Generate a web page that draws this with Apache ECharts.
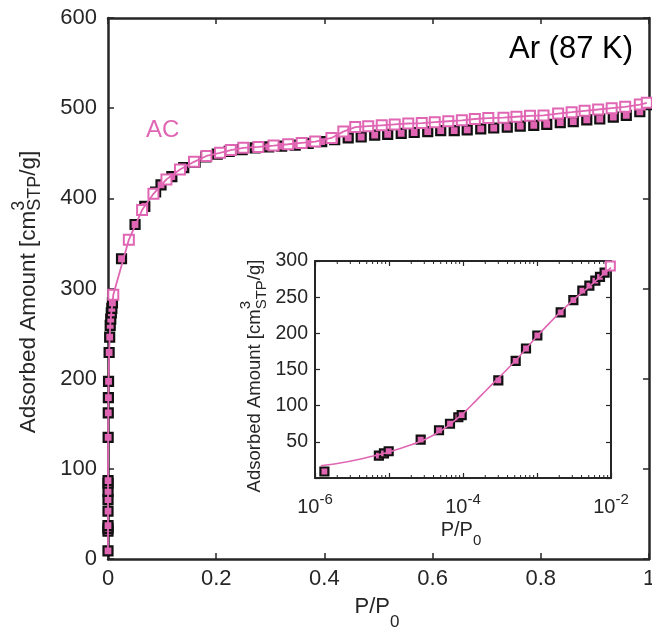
<!DOCTYPE html>
<html><head><meta charset="utf-8">
<script src="https://cdn.jsdelivr.net/npm/echarts@6/dist/echarts.min.js"></script>
<style>html,body{margin:0;padding:0;background:#fff;}#c{width:652px;height:635px;}</style>
</head><body><div id="c"></div>
<script>
// ---------- data ----------
// adsorption branch (filled squares)
const adsP = [1.34e-6, 7.3e-6, 8.55e-6, 9.9e-6, 2.68e-5, 4.74e-5, 6.67e-5, 8.65e-5, 9.6e-5, 3.0e-4,
  5.15e-4, 7.1e-4, 1.01e-3, 2.09e-3, 3.1e-3, 4.1e-3, 5.1e-3, 6.14e-3, 7.1e-3, 8.2e-3,
  0.025, 0.050, 0.068, 0.088, 0.098, 0.118, 0.140, 0.161, 0.181, 0.202,
  0.224, 0.248, 0.272, 0.297, 0.321, 0.346, 0.370, 0.395, 0.419, 0.444,
  0.468, 0.493, 0.517, 0.542, 0.566, 0.591, 0.615, 0.640, 0.664, 0.689,
  0.713, 0.738, 0.762, 0.787, 0.811, 0.836, 0.860, 0.885, 0.909, 0.934,
  0.958, 0.983, 0.998];
const adsV = [9, 31, 34, 37, 53, 66, 75, 84, 87, 135,
  162, 179, 197, 229, 246, 259, 266, 273, 278, 284,
  333, 371, 391, 407, 415, 424, 434, 440, 446, 449,
  452, 454, 456, 457, 458, 459, 461, 463, 465, 467,
  468, 470, 471, 472, 473, 474, 475, 475, 476, 477,
  478, 479, 480, 481, 482, 484, 485, 487, 488, 490,
  492, 496, 504];
// desorption branch (open squares)
const desP = [0.0098, 0.0385, 0.063, 0.084, 0.108, 0.133, 0.159, 0.182, 0.207, 0.227,
  0.250, 0.278, 0.306, 0.333, 0.358, 0.383, 0.413, 0.435, 0.457, 0.481,
  0.506, 0.530, 0.555, 0.580, 0.604, 0.629, 0.654, 0.678, 0.703, 0.731,
  0.755, 0.780, 0.805, 0.832, 0.857, 0.881, 0.906, 0.931, 0.956, 0.983, 0.996];
const desV = [293, 354, 387, 405, 421, 432, 440.5, 447, 450.5, 453.5,
  456, 457, 458.5, 460, 461.5, 463, 467, 474, 479, 480,
  481, 482, 483, 483.5, 484.5, 485.5, 486.5, 488, 489, 489.5,
  490.5, 491.5, 492, 494, 495.5, 497, 498.5, 500, 501.5, 504, 506];
// model fit curve shown in the inset
const fitP = [1.2e-6, 2e-6, 4e-6, 7e-6, 1e-5, 2e-5, 3e-5, 5e-5, 7e-5, 1e-4, 1.5e-4, 2e-4, 3e-4,
  5e-4, 7e-4, 1e-3, 1.5e-3, 2e-3, 3e-3, 5e-3, 7e-3, 1e-2];
const fitV = [17, 20, 26, 32, 36, 46, 53, 65, 76, 89, 107, 120, 138,
  161, 178, 196, 215, 228, 245, 264, 277, 291];
// tick values
const mainXTicks = [0, 0.2, 0.4, 0.6, 0.8, 1];
const mainYTicks = [0, 100, 200, 300, 400, 500, 600];
const insetYTicks = [50, 100, 150, 200, 250, 300];
const insetMinorTicks = [2e-6,3e-6,4e-6,5e-6,6e-6,7e-6,8e-6,9e-6,
  2e-5,3e-5,4e-5,5e-5,6e-5,7e-5,8e-5,9e-5,
  2e-4,3e-4,4e-4,5e-4,6e-4,7e-4,8e-4,9e-4,
  2e-3,3e-3,4e-3,5e-3,6e-3,7e-3,8e-3,9e-3];
const insetLimit = 0.0099; // points shown in inset: P <= 1e-2

// ---------- style ----------
const PINK = '#e066b4';
const AX = '#262626';
const FONT = '"Liberation Sans", Arial, Helvetica, sans-serif';

const ctx2d = document.createElement('canvas').getContext('2d');
function tw(t, s) { ctx2d.font = s + 'px ' + FONT; return ctx2d.measureText(t).width; }

const pairs = (xs, ys) => xs.map((x, i) => [x, ys[i]]);
const adsData = pairs(adsP, adsV);
const desData = pairs(desP, desV);
const lineData = adsData.filter(d => d[0] < desP[0]).concat(desData);
const insetAds = adsData.filter(d => d[0] <= insetLimit);
const insetDes = desData.filter(d => d[0] <= insetLimit);

function txt(text, x, y, size, color, align, vAlign) {
  return { type: 'text', x: x, y: y, silent: true,
    style: { text: text, font: size + 'px ' + FONT, fill: color || AX,
      align: align || 'left', verticalAlign: vAlign || 'middle' } };
}
// rotated y title with stacked super/subscript
function yTitle(cx, cy, size, sub, supDy, subDy) {
  const a = 'Adsorbed Amount [cm', b = '/g]';
  const wa = tw(a, size), w3 = tw('3', sub), ws = tw('STP', sub), wb = tw(b, size);
  const W = wa + Math.max(w3, ws) + wb;
  return { type: 'group', x: cx, y: cy + W / 2, rotation: Math.PI / 2, silent: true,
    children: [
      txt(a, 0, 0, size),
      txt('3', wa, supDy, sub),
      txt('STP', wa, subDy, sub),
      txt(b, wa + Math.max(w3, ws), 0, size)
    ] };
}
function xTitle(cx, cy, size, sub, subDy) {
  const wa = tw('P/P', size), w0 = tw('0', sub);
  const x0 = cx - (wa + w0) / 2;
  return { type: 'group', silent: true, children: [
    txt('P/P', x0, cy, size),
    txt('0', x0 + wa, cy + subDy, sub)
  ] };
}

const tickLabel = (size) => ({ color: AX, fontSize: size, fontFamily: FONT });
function valueAxis(grid, pos, min, max, interval, opts) {
  return Object.assign({
    type: 'value', gridIndex: grid, position: pos, min: min, max: max, interval: interval,
    axisLine: { show: true, onZero: false, lineStyle: { color: AX, width: 2.5 } },
    axisTick: { show: true, inside: true, length: 6, lineStyle: { color: AX, width: 1.5 } },
    splitLine: { show: false }, axisLabel: { show: false }
  }, opts || {});
}

const chart = echarts.init(document.getElementById('c'), null, { renderer: 'canvas' });
chart.setOption({
  animation: false,
  backgroundColor: '#fff',
  grid: [
    { left: 108, top: 18, width: 541, height: 541, containLabel: false, outerBoundsMode: 'none' },
    { left: 315, top: 261, width: 296, height: 217, containLabel: false, outerBoundsMode: 'none' }
  ],
  xAxis: [
    valueAxis(0, 'bottom', mainXTicks[0], mainXTicks[mainXTicks.length - 1], 0.2, {
      axisLabel: Object.assign({ show: true, margin: 9, showMaxLabel: true, showMinLabel: true }, tickLabel(22)) }),
    valueAxis(0, 'top', 0, 1, 0.2),
    {
      type: 'log', logBase: 10, gridIndex: 1, position: 'bottom', min: 1e-6, max: 1e-2, splitNumber: 4,
      axisLine: { show: true, onZero: false, lineStyle: { color: AX, width: 2 } },
      axisTick: { show: true, inside: true, length: 5, lineStyle: { color: AX, width: 1.2 } },
      splitLine: { show: false },
      axisLabel: {
        show: true, margin: 14, color: AX, fontFamily: FONT, showMinLabel: true, showMaxLabel: true,
        formatter: function (v) {
          const e = Math.round(Math.log10(v));
          return (e % 2 === 0) ? '{b|10}{s|' + e + '}' : '';
        },
        rich: {
          b: { fontSize: 20, fontFamily: FONT, color: AX },
          s: { fontSize: 15, fontFamily: FONT, color: AX, padding: [0, 0, 16, 0] }
        }
      }
    },
    {
      type: 'log', logBase: 10, gridIndex: 1, position: 'top', min: 1e-6, max: 1e-2, splitNumber: 4,
      axisLine: { show: true, onZero: false, lineStyle: { color: AX, width: 2 } },
      axisTick: { show: true, inside: true, length: 5, lineStyle: { color: AX, width: 1.2 } },
      splitLine: { show: false }, axisLabel: { show: false }
    }
  ],
  yAxis: [
    valueAxis(0, 'left', mainYTicks[0], mainYTicks[mainYTicks.length - 1], 100, {
      axisLabel: Object.assign({ show: true, margin: 11 }, tickLabel(22)) }),
    valueAxis(0, 'right', 0, 600, 100),
    valueAxis(1, 'left', 0, insetYTicks[insetYTicks.length - 1], 50, {
      axisLine: { show: true, onZero: false, lineStyle: { color: AX, width: 2 } },
      axisTick: { show: true, inside: true, length: 5, lineStyle: { color: AX, width: 1.2 } },
      axisLabel: Object.assign({ show: true, margin: 7,
        formatter: v => (insetYTicks.indexOf(v) >= 0 ? String(v) : '') }, tickLabel(19.5)) }),
    valueAxis(1, 'right', 0, 300, 50, {
      axisLine: { show: true, onZero: false, lineStyle: { color: AX, width: 2 } },
      axisTick: { show: true, inside: true, length: 5, lineStyle: { color: AX, width: 1.2 } } })
  ],
  series: [
    { type: 'scatter', xAxisIndex: 0, yAxisIndex: 0, data: adsData, symbol: 'rect', symbolSize: 9, z: 2,
      itemStyle: { color: PINK, borderColor: '#111', borderWidth: 2.2, opacity: 1 } },
    { type: 'scatter', xAxisIndex: 0, yAxisIndex: 0, data: desData, symbol: 'rect', symbolSize: 10, z: 3,
      itemStyle: { color: '#fff', borderColor: PINK, borderWidth: 2, opacity: 1 } },
    { type: 'line', xAxisIndex: 0, yAxisIndex: 0, data: lineData, showSymbol: false, symbol: 'none', z: 4,
      lineStyle: { color: PINK, width: 1.8 } },

    { type: 'custom', xAxisIndex: 2, yAxisIndex: 2, data: insetMinorTicks.map(v => [v, 0]), silent: true, z: 1,
      renderItem: function (params, api) {
        const v = api.value(0);
        const b = api.coord([v, 0]);
        const t = api.coord([v, 300]);
        return { type: 'group', children: [
          { type: 'line', shape: { x1: b[0], y1: b[1], x2: b[0], y2: b[1] - 3 }, style: { stroke: AX, lineWidth: 1 } },
          { type: 'line', shape: { x1: t[0], y1: t[1], x2: t[0], y2: t[1] + 3 }, style: { stroke: AX, lineWidth: 1 } }
        ] };
      } },
    { type: 'scatter', xAxisIndex: 2, yAxisIndex: 2, data: insetAds, symbol: 'rect', symbolSize: 8, z: 2,
      itemStyle: { color: PINK, borderColor: '#111', borderWidth: 2.2, opacity: 1 } },
    { type: 'scatter', xAxisIndex: 2, yAxisIndex: 2, data: insetDes, symbol: 'rect', symbolSize: 9, z: 3,
      itemStyle: { color: '#fff', borderColor: PINK, borderWidth: 2, opacity: 1 } },
    { type: 'line', xAxisIndex: 2, yAxisIndex: 2, data: pairs(fitP, fitV), smooth: 0.3, showSymbol: false, symbol: 'none', z: 4,
      lineStyle: { color: PINK, width: 1.6 } }
  ],
  graphic: [
    txt('Ar (87 K)', 633, 49, 31, '#000', 'right'),
    txt('AC', 146, 130, 24, PINK, 'left'),
    xTitle(377, 607, 22, 17, 15),
    yTitle(29, 292, 22.5, 18, -10, 6),
    xTitle(461, 530, 20, 15, 11),
    yTitle(255, 376, 18.5, 15, -9, 7)
  ]
});
</script></body></html>
